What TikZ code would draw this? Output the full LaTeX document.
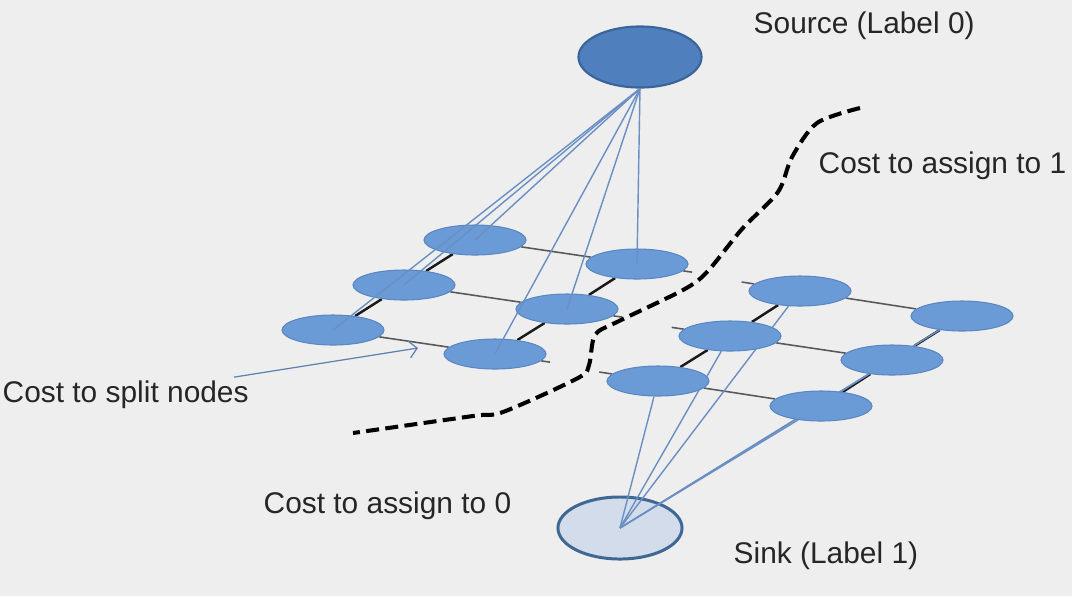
\documentclass[tikz,border=0pt]{standalone}
\usepackage{fontspec}
\setmainfont{Liberation Sans}
\usetikzlibrary{shapes.geometric,calc,arrows.meta}
\definecolor{bg}{HTML}{EEEEEE}
\definecolor{cellfill}{HTML}{6B9BD6}
\definecolor{celldraw}{HTML}{5A87C0}
\definecolor{srcfill}{HTML}{4F80BD}
\definecolor{srcdraw}{HTML}{38649A}
\definecolor{snkfill}{HTML}{D2DCEA}
\definecolor{snkdraw}{HTML}{3F6794}
\definecolor{tie}{HTML}{6A8FC3}
\pgfdeclarelayer{back}
\pgfsetlayers{back,main}
\tikzset{cell/.style={ellipse, draw=celldraw, fill=cellfill, line width=0.3pt,
		minimum width=1.02cm, minimum height=0.30cm, inner sep=0},
	source/.style={ellipse, draw=srcdraw, fill=srcfill, line width=0.6pt,
		minimum width=1.23cm, minimum height=0.61cm, inner sep=0},
	sink/.style={ellipse, draw=snkdraw, fill=snkfill, line width=0.85pt,
		minimum width=1.24cm, minimum height=0.62cm, inner sep=0},
	lbl/.style={anchor=base west, inner sep=0, text=black!85,
		font=\fontsize{8.5}{10}\selectfont},
	tieline/.style={draw=tie, line width=0.4pt}}

\begin{document}
\begin{tikzpicture}[x=0.01cm, y=-0.01cm]
		\begin{scope}[every node/.style={cell}]
			% left half of the grid
			\node(A) at (475, 240) {};
			\node(B) at (637, 264) {};
			\node(C) at (404, 285) {};
			\node(D) at (567, 309) {};
			\node(E) at (333, 330) {};
			\node(F) at (495, 354) {};
			% right half of the grid
			\node(G) at (800, 291) {};
			\node(H) at (962, 316) {};
			\node(I) at (730, 336) {};
			\node(J) at (892, 360) {};
			\node(K) at (658, 381) {};
			\node(L) at (821, 406) {};
		\end{scope}
		\node[source](S) at (640, 57) {};
		\coordinate (Bx) at ($(A)!1.34!(B)$);
		\coordinate (Dx) at ($(C)!1.34!(D)$);
		\coordinate (Fx) at ($(E)!1.34!(F)$);
		\coordinate (Gx) at ($(H)!1.36!(G)$);
		\coordinate (Ix) at ($(J)!1.36!(I)$);
		\coordinate (Kx) at ($(L)!1.36!(K)$);
		\begin{pgfonlayer}{back}
			\fill[bg] (0, 0) rectangle (1072, 596);
			\node[sink](T) at (620, 528) {};
			\begin{scope}[every edge/.style={draw=black!65, line width=0.45pt}]
				\path (A) edge (B) (C) edge (D) (E) edge (F);
				\path (B) edge (Bx) (D) edge (Dx) (F) edge (Fx);
				\path (G) edge (H) (I) edge (J) (K) edge (L);
				\path (Gx) edge (G) (Ix) edge (I) (Kx) edge (K);
			\end{scope}
			\begin{scope}[every edge/.style={draw=black!90, line width=0.7pt}]
				\path (A) edge (C) (C) edge (E) (B) edge (D) (D) edge (F);
				\path (G) edge (I) (I) edge (K) (H) edge (J) (J) edge (L);
			\end{scope}
			\foreach \n in {G,H,I,J,K,L}
				\draw[tieline] (T.center) -- (\n);
		\end{pgfonlayer}
		\foreach \n in {A,B,C,D,E,F}
			\draw[tieline] (S.south) -- (\n.center);
		% the cut
		\draw[black, line width=1.15pt, dash pattern=on 3.7pt off 1.8pt]
			plot[smooth, tension=0.5] coordinates {(860,108) (817,123) (792,157)
			(778,192) (742,229) (707,272) (683,290) (617,322) (595,335) (589,365)
			(578,378) (503,412) (473,416) (353,433)};
		\node[lbl](srclbl) at (753, 33) {Source (Label 0)};
		\node[lbl](onelbl) at (818, 173) {Cost to assign to 1};
		\node[lbl](splitlbl) at (2, 402) {Cost to split nodes};
		\node[lbl](zerolbl) at (263, 513) {Cost to assign to 0};
		\node[lbl](snklbl) at (733, 563) {Sink (Label 1)};
		\coordinate (splittip) at (418, 348);
		\draw[draw=tie!90!black, line width=0.35pt, shorten <=0.16cm,
			-{Straight Barb[length=0.8mm, width=1.7mm]}] (splitlbl) -- (splittip);
	\end{tikzpicture}
\end{document}
